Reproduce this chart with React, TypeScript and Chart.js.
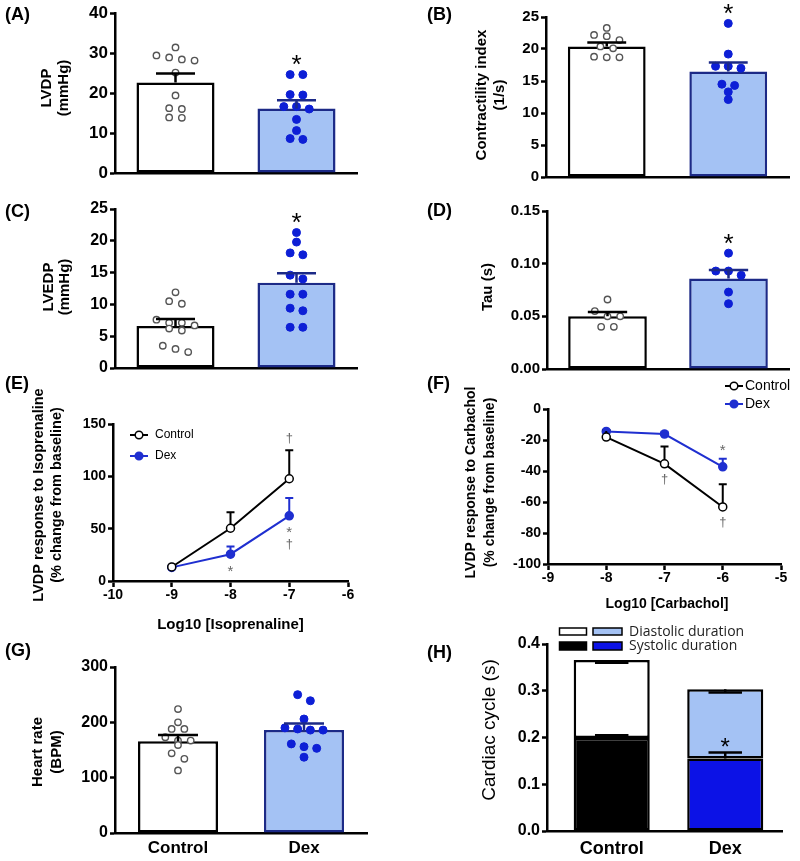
import React, { useEffect, useRef } from 'react';
import { Chart, registerables } from 'chart.js';

Chart.register(...registerables);

// ---------------- data ----------------
const groups = ['Control', 'Dex'];

// (A) LVDP (mmHg)
const lvdpControl = [31.4, 29.4, 28.9, 28.4, 28.1, 25.1, 19.4, 16.2, 16.0, 13.9, 13.8];
const lvdpDex = [24.6, 24.6, 19.6, 19.5, 16.6, 16.6, 16.0, 13.4, 10.6, 8.6, 8.4];
const lvdpMean = [22.6, 16.1];
const lvdpSem = [2.3, 2.1];

// (B) Contractility index (1/s)
const ciControl = [23.3, 22.2, 22.0, 21.4, 20.4, 20.1, 18.8, 18.7, 18.7];
const ciDex = [24.0, 19.2, 17.3, 17.3, 17.0, 14.5, 14.3, 13.3, 12.1];
const ciMean = [20.4, 16.5];
const ciSem = [0.6, 1.4];

// (C) LVEDP (mmHg)
const lvedpControl = [11.9, 10.5, 10.1, 7.6, 7.1, 7.1, 6.7, 6.2, 5.9, 3.5, 3.0, 2.5];
const lvedpDex = [21.3, 19.8, 18.1, 17.8, 14.6, 14.0, 11.6, 11.6, 9.4, 9.0, 6.4, 6.4];
const lvedpMean = [6.6, 13.4];
const lvedpSem = [1.1, 1.5];

// (D) Tau (s)
const tauControl = [0.066, 0.055, 0.05, 0.05, 0.04, 0.04];
const tauDex = [0.11, 0.093, 0.093, 0.089, 0.073, 0.062];
const tauMean = [0.05, 0.086];
const tauSem = [0.004, 0.008];

// (E) Isoprenaline dose response
const isoLogDose = [-9, -8, -7];
const isoControl = [13.4, 50.4, 97.7];
const isoControlSem = [0, 15.4, 27.2];
const isoDex = [13.0, 25.6, 62.3];
const isoDexSem = [0, 7.3, 16.9];

// (F) Carbachol dose response
const cchLogDose = [-8, -7, -6];
const cchControl = [-18.1, -35.4, -63.2];
const cchControlSem = [4.5, 11.2, 14.7];
const cchDex = [-14.5, -16.2, -37.3];
const cchDexSem = [1.0, 1.5, 5.2];

// (G) Heart rate (BPM)
const hrControl = [224, 200, 188, 188, 173, 167, 167, 159, 144, 134, 113];
const hrDex = [250, 239, 206, 190, 188, 186, 186, 161, 156, 153, 137];
const hrMean = [166, 186];
const hrSem = [11, 12];

// (H) Cardiac cycle (s)
const systolic = [0.199, 0.155];
const systolicSem = [0.006, 0.013];
const diastolic = [0.167, 0.148];
const diastolicSem = [0.006, 0.007];

// ---------------- styles ----------------
const FONT = "'Liberation Sans', Arial, Helvetica, sans-serif";
const OPEN = "'Open Sans', 'Liberation Sans', Arial, sans-serif";
const BLACK = '#000000';
const NAVY = '#1c2a87';
const LIGHT_BLUE = '#a4c2f4';
const DEX_BLUE = '#0d1fd6';
const LINE_BLUE = '#1f2fd0';
const STACK_BLUE = '#0c12e6';
const GREY_POINT = '#555555';
const MARK_GREY = '#666666';
const W = 800;
const H = 861;
const Y_AXIS_W = 60;
const X_AXIS_H = 25;

type Area = { l: number; t: number; r: number; b: number };
type Decor = {
  label: string;
  labelXY: [number, number];
  yTitle: string[];
  yTitleX: number[];
  yTitleY: number;
  yTitleFont: string;
  xTitle?: string;
  xTitleXY?: [number, number];
  xTitleFont?: string;
};

function layoutPadding(a: Area) {
  return { left: a.l - Y_AXIS_W, top: a.t, right: W - a.r, bottom: H - a.b - X_AXIS_H };
}

function swarm(values: number[], center: number, tol: number, step: number) {
  const order = values.map((_, i) => i).sort((a, b) => values[b] - values[a]);
  const pts: { x: number; y: number }[] = new Array(values.length);
  let group: number[] = [];
  const flush = () => {
    group.forEach((k, j) => {
      pts[k] = { x: center + (j - (group.length - 1) / 2) * step, y: values[k] };
    });
    group = [];
  };
  for (const k of order) {
    if (group.length && values[group[0]] - values[k] > tol) flush();
    group.push(k);
  }
  flush();
  return pts;
}

function glyph(ctx: CanvasRenderingContext2D, ch: string, x: number, cy: number, size: number, color: string) {
  const k = ch === '†' ? 0.3 : 0.565;
  ctx.save();
  ctx.font = `${size}px ${FONT}`;
  ctx.textAlign = 'center';
  ctx.textBaseline = 'alphabetic';
  ctx.fillStyle = color;
  ctx.fillText(ch, x, cy + k * size);
  ctx.restore();
}

function drawErr(ctx: CanvasRenderingContext2D, cx: number, y0: number, y1: number, half: number, color: string, lw: number) {
  ctx.save();
  ctx.strokeStyle = color;
  ctx.lineWidth = lw;
  ctx.beginPath();
  ctx.moveTo(cx, y0);
  ctx.lineTo(cx, y1);
  ctx.moveTo(cx - half, y1);
  ctx.lineTo(cx + half, y1);
  ctx.stroke();
  ctx.restore();
}

function drawDecor(ctx: CanvasRenderingContext2D, d: Decor) {
  ctx.save();
  ctx.fillStyle = BLACK;
  ctx.font = `bold 18px ${FONT}`;
  ctx.textAlign = 'left';
  ctx.textBaseline = 'middle';
  ctx.fillText(d.label, d.labelXY[0], d.labelXY[1]);
  d.yTitle.forEach((line, i) => {
    ctx.save();
    ctx.translate(d.yTitleX[i], d.yTitleY);
    ctx.rotate(-Math.PI / 2);
    ctx.font = d.yTitleFont;
    ctx.textAlign = 'center';
    ctx.textBaseline = 'middle';
    ctx.fillText(line, 0, 0);
    ctx.restore();
  });
  if (d.xTitle && d.xTitleXY) {
    ctx.font = d.xTitleFont || `bold 15px ${FONT}`;
    ctx.textAlign = 'center';
    ctx.textBaseline = 'middle';
    ctx.fillText(d.xTitle, d.xTitleXY[0], d.xTitleXY[1]);
  }
  ctx.restore();
}

function yAxis(min: number, max: number, step: number, dec: number, size: number, tickLen = 5) {
  return {
    type: 'linear',
    min,
    max,
    ticks: {
      stepSize: step,
      color: BLACK,
      padding: 2,
      font: { family: FONT, size, weight: 'bold' },
      callback: (v: any) => Number(v).toFixed(dec),
    },
    grid: { display: true, drawOnChartArea: false, drawTicks: true, tickLength: tickLen, tickWidth: 2.5, tickColor: BLACK },
    border: { display: true, color: BLACK, width: 2.5 },
    afterFit: (s: any) => {
      s.width = Y_AXIS_W;
    },
  };
}

function categoryLikeX(xMin: number, xMax: number, labelSize: number, labelPad: number, showLabels: boolean, stacked = false) {
  return {
    type: 'linear',
    min: xMin,
    max: xMax,
    offset: false,
    stacked,
    grid: { display: false, drawTicks: false, tickLength: 0, offset: false },
    border: { display: true, color: BLACK, width: 2.5 },
    ticks: {
      display: showLabels,
      padding: labelPad,
      color: BLACK,
      maxRotation: 0,
      autoSkip: false,
      font: { family: FONT, size: labelSize, weight: 'bold' },
      callback: (v: any) => groups[Math.round(Number(v) - 0.5)] ?? '',
    },
    afterBuildTicks: (s: any) => {
      s.ticks = groups.map((_, i) => ({ value: i + 0.5 }));
    },
    afterFit: (s: any) => {
      s.height = X_AXIS_H;
    },
  };
}

type BarPanel = {
  id: string;
  area: Area;
  yMin: number;
  yMax: number;
  yStep: number;
  dec: number;
  tickSize: number;
  control: number[];
  dex: number[];
  means: number[];
  sems: number[];
  star: boolean;
  barPct: number;
  xLabels?: { size: number; pad: number };
  decor: Decor;
};

function barPanelConfig(p: BarPanel) {
  const xMin = 0;
  const xMax = 2;
  const pxPerX = (p.area.r - p.area.l) / (xMax - xMin);
  const tol = (6.5 * (p.yMax - p.yMin)) / (p.area.b - p.area.t);
  const step = 12.7 / pxPerX;
  const ctrlPts = swarm(p.control, 0.5, tol, step);
  const dexPts = swarm(p.dex, 1.5, tol, step);
  return {
    type: 'bar',
    data: {
      datasets: [
        {
          type: 'scatter',
          data: ctrlPts,
          order: 0,
          pointRadius: 3.2,
          pointBorderWidth: 1.4,
          pointBackgroundColor: '#ffffff',
          pointBorderColor: GREY_POINT,
          clip: false,
        },
        {
          type: 'scatter',
          data: dexPts,
          order: 0,
          pointRadius: 4,
          pointBorderWidth: 1,
          pointBackgroundColor: DEX_BLUE,
          pointBorderColor: DEX_BLUE,
          clip: false,
        },
        {
          type: 'bar',
          data: groups.map((_, i) => ({ x: i + 0.5, y: p.means[i] })),
          order: 1,
          backgroundColor: ['#ffffff', LIGHT_BLUE],
          borderColor: [BLACK, NAVY],
          borderWidth: 2.5,
          borderSkipped: false,
          barPercentage: p.barPct,
          categoryPercentage: 1,
        },
      ],
    },
    options: {
      responsive: false,
      animation: false,
      events: [],
      layout: { padding: layoutPadding(p.area) },
      plugins: { legend: { display: false }, tooltip: { enabled: false } },
      scales: {
        x: categoryLikeX(xMin, xMax, p.xLabels ? p.xLabels.size : 12, p.xLabels ? p.xLabels.pad : 0, !!p.xLabels),
        y: yAxis(p.yMin, p.yMax, p.yStep, p.dec, p.tickSize),
      },
    },
    plugins: [
      {
        id: 'barDecor' + p.id,
        afterDatasetsDraw(chart: any) {
          const ctx = chart.ctx;
          const xs = chart.scales.x;
          const ys = chart.scales.y;
          const meta = chart.getDatasetMeta(2);
          p.means.forEach((m, i) => {
            const bar: any = meta.data[i];
            const cx = xs.getPixelForValue(i + 0.5);
            drawErr(ctx, cx, ys.getPixelForValue(m), ys.getPixelForValue(m + p.sems[i]), bar.width / 4, i === 0 ? BLACK : NAVY, 2.5);
          });
          if (p.star) {
            const top = ys.getPixelForValue(Math.max(...p.dex));
            glyph(ctx, '*', xs.getPixelForValue(1.5), top - 16, 26, BLACK);
          }
        },
        afterDraw(chart: any) {
          drawDecor(chart.ctx, p.decor);
        },
      },
    ],
  };
}

type Series = { name: string; values: number[]; sems: number[]; color: string; fill: string };
type Mark = { series: number; dose: number; pos: 'above' | 'below'; row: number; text: string };
type LinePanel = {
  id: string;
  area: Area;
  xMin: number;
  xMax: number;
  yMin: number;
  yMax: number;
  yStep: number;
  dose: number[];
  series: Series[];
  marks: Mark[];
  legend: { cx: number; ys: number[]; textX: number; size: number };
  decor: Decor;
};

function linePanelConfig(p: LinePanel) {
  return {
    type: 'line',
    data: {
      datasets: p.series.map((s) => ({
        label: s.name,
        data: p.dose.map((d, i) => ({ x: d, y: s.values[i] })),
        borderColor: s.color,
        borderWidth: 2,
        pointRadius: 4,
        pointBorderWidth: 1.5,
        pointBackgroundColor: s.fill,
        pointBorderColor: s.color,
        tension: 0,
        clip: false,
      })),
    },
    options: {
      responsive: false,
      animation: false,
      events: [],
      layout: { padding: layoutPadding(p.area) },
      plugins: { legend: { display: false }, tooltip: { enabled: false } },
      scales: {
        x: {
          type: 'linear',
          min: p.xMin,
          max: p.xMax,
          offset: false,
          ticks: { stepSize: 1, color: BLACK, padding: 0, maxRotation: 0, font: { family: FONT, size: 14, weight: 'bold' } },
          grid: { display: true, drawOnChartArea: false, drawTicks: true, tickLength: 6, tickWidth: 2.5, tickColor: BLACK, offset: false },
          border: { display: true, color: BLACK, width: 2.5 },
          afterFit: (s: any) => {
            s.height = X_AXIS_H;
          },
        },
        y: yAxis(p.yMin, p.yMax, p.yStep, 0, 14),
      },
    },
    plugins: [
      {
        id: 'lineDecor' + p.id,
        afterDatasetsDraw(chart: any) {
          const ctx = chart.ctx;
          const xs = chart.scales.x;
          const ys = chart.scales.y;
          p.series.forEach((s) => {
            s.values.forEach((v, j) => {
              const e = s.sems[j];
              if (!e) return;
              const cx = xs.getPixelForValue(p.dose[j]);
              const py = ys.getPixelForValue(v);
              drawErr(ctx, cx, py - 4, ys.getPixelForValue(v + e), 4, s.color, 2);
            });
          });
          p.marks.forEach((m) => {
            const s = p.series[m.series];
            const j = p.dose.indexOf(m.dose);
            const cx = xs.getPixelForValue(m.dose);
            let cy: number;
            if (m.pos === 'above') {
              cy = ys.getPixelForValue(s.values[j] + s.sems[j]) - 12 - m.row * 13;
            } else {
              cy = ys.getPixelForValue(s.values[j]) + 13 + m.row * 13 + (m.text === '†' ? 2 : 0);
            }
            glyph(ctx, m.text, cx, cy, m.text === '†' ? 13 : 15, MARK_GREY);
          });
          // legend
          const L = p.legend;
          p.series.forEach((s, i) => {
            const y = L.ys[i];
            ctx.save();
            ctx.strokeStyle = s.color;
            ctx.lineWidth = 2;
            ctx.beginPath();
            ctx.moveTo(L.cx - 9, y);
            ctx.lineTo(L.cx + 9, y);
            ctx.stroke();
            ctx.beginPath();
            ctx.arc(L.cx, y, 3.8, 0, Math.PI * 2);
            ctx.fillStyle = s.fill;
            ctx.fill();
            ctx.lineWidth = 1.5;
            ctx.stroke();
            ctx.fillStyle = BLACK;
            ctx.font = `${L.size}px ${FONT}`;
            ctx.textAlign = 'left';
            ctx.textBaseline = 'middle';
            ctx.fillText(s.name, L.textX, y);
            ctx.restore();
          });
        },
        afterDraw(chart: any) {
          drawDecor(chart.ctx, p.decor);
        },
      },
    ],
  };
}

function stackConfig() {
  const area: Area = { l: 547, t: 644, r: 782, b: 831 };
  const decor: Decor = {
    label: '(H)',
    labelXY: [427, 653],
    yTitle: ['Cardiac cycle (s)'],
    yTitleX: [490],
    yTitleY: 730,
    yTitleFont: `19px ${FONT}`,
  };
  return {
    type: 'bar',
    data: {
      datasets: [
        {
          label: 'Systolic duration',
          data: groups.map((_, i) => ({ x: i + 0.5, y: systolic[i] })),
          backgroundColor: [BLACK, STACK_BLUE],
          borderColor: BLACK,
          borderWidth: 2.5,
          borderSkipped: false,
          stack: 's',
          barPercentage: 0.67,
          categoryPercentage: 1,
        },
        {
          label: 'Diastolic duration',
          data: groups.map((_, i) => ({ x: i + 0.5, y: diastolic[i] })),
          backgroundColor: ['#ffffff', LIGHT_BLUE],
          borderColor: BLACK,
          borderWidth: 2.5,
          borderSkipped: false,
          stack: 's',
          barPercentage: 0.67,
          categoryPercentage: 1,
        },
      ],
    },
    options: {
      responsive: false,
      animation: false,
      events: [],
      layout: { padding: layoutPadding(area) },
      plugins: { legend: { display: false }, tooltip: { enabled: false } },
      scales: {
        x: categoryLikeX(-0.07, 2, 18, 7, true, true),
        y: { ...yAxis(0, 0.4, 0.1, 1, 16), stacked: true },
      },
    },
    plugins: [
      {
        id: 'stackDecor',
        afterDatasetsDraw(chart: any) {
          const ctx = chart.ctx;
          const xs = chart.scales.x;
          const ys = chart.scales.y;
          const meta = chart.getDatasetMeta(0);
          groups.forEach((_, i) => {
            const cx = xs.getPixelForValue(i + 0.5);
            const half = (meta.data[i] as any).width * 0.22;
            const sTop = systolic[i];
            const tTop = systolic[i] + diastolic[i];
            drawErr(ctx, cx, ys.getPixelForValue(sTop), ys.getPixelForValue(sTop + systolicSem[i]), half, BLACK, 2.5);
            drawErr(ctx, cx, ys.getPixelForValue(tTop), ys.getPixelForValue(tTop - diastolicSem[i]), half, BLACK, 2.5);
          });
          glyph(ctx, '*', xs.getPixelForValue(1.5), ys.getPixelForValue(systolic[1] + systolicSem[1]) - 11, 24, BLACK);
        },
        afterDraw(chart: any) {
          const ctx = chart.ctx;
          drawDecor(ctx, decor);
          const rows = [
            { y: 628, h: 7, fills: ['#ffffff', LIGHT_BLUE], text: 'Diastolic duration' },
            { y: 642, h: 8, fills: [BLACK, STACK_BLUE], text: 'Systolic duration' },
          ];
          ctx.save();
          rows.forEach((r) => {
            ctx.lineWidth = 1.5;
            ctx.strokeStyle = BLACK;
            ctx.fillStyle = r.fills[0];
            ctx.fillRect(559.5, r.y, 27, r.h);
            ctx.strokeRect(559.5, r.y, 27, r.h);
            ctx.fillStyle = r.fills[1];
            ctx.fillRect(593, r.y, 29, r.h);
            ctx.strokeRect(593, r.y, 29, r.h);
            ctx.fillStyle = '#222222';
            ctx.font = `14px ${OPEN}`;
            ctx.textAlign = 'left';
            ctx.textBaseline = 'middle';
            ctx.fillText(r.text, 629, r.y + r.h / 2 + 0.5);
          });
          ctx.restore();
        },
      },
    ],
  };
}

function buildConfigs(): any[] {
  const A = barPanelConfig({
    id: 'A',
    area: { l: 115, t: 13, r: 357, b: 173 },
    yMin: 0, yMax: 40, yStep: 10, dec: 0, tickSize: 17,
    control: lvdpControl, dex: lvdpDex, means: lvdpMean, sems: lvdpSem,
    star: true, barPct: 0.645,
    decor: { label: '(A)', labelXY: [5, 15], yTitle: ['LVDP', '(mmHg)'], yTitleX: [47, 64], yTitleY: 88, yTitleFont: `bold 15px ${FONT}` },
  });
  const B = barPanelConfig({
    id: 'B',
    area: { l: 546, t: 17, r: 789, b: 177 },
    yMin: 0, yMax: 25, yStep: 5, dec: 0, tickSize: 15,
    control: ciControl, dex: ciDex, means: ciMean, sems: ciSem,
    star: true, barPct: 0.64,
    decor: { label: '(B)', labelXY: [427, 15], yTitle: ['Contractility index', '(1/s)'], yTitleX: [482, 499.5], yTitleY: 95, yTitleFont: `bold 15px ${FONT}` },
  });
  const C = barPanelConfig({
    id: 'C',
    area: { l: 115, t: 209, r: 357, b: 368 },
    yMin: 0, yMax: 25, yStep: 5, dec: 0, tickSize: 16,
    control: lvedpControl, dex: lvedpDex, means: lvedpMean, sems: lvedpSem,
    star: true, barPct: 0.645,
    decor: { label: '(C)', labelXY: [5, 212], yTitle: ['LVEDP', '(mmHg)'], yTitleX: [49, 65], yTitleY: 287, yTitleFont: `bold 15px ${FONT}` },
  });
  const D = barPanelConfig({
    id: 'D',
    area: { l: 547, t: 211, r: 789, b: 369 },
    yMin: 0, yMax: 0.15, yStep: 0.05, dec: 2, tickSize: 15,
    control: tauControl, dex: tauDex, means: tauMean, sems: tauSem,
    star: true, barPct: 0.65,
    decor: { label: '(D)', labelXY: [427, 211], yTitle: ['Tau (s)'], yTitleX: [487.5], yTitleY: 287, yTitleFont: `bold 15px ${FONT}` },
  });
  const E = linePanelConfig({
    id: 'E',
    area: { l: 113, t: 424, r: 348, b: 581 },
    xMin: -10, xMax: -6, yMin: 0, yMax: 150, yStep: 50,
    dose: isoLogDose,
    series: [
      { name: 'Control', values: isoControl, sems: isoControlSem, color: BLACK, fill: '#ffffff' },
      { name: 'Dex', values: isoDex, sems: isoDexSem, color: LINE_BLUE, fill: LINE_BLUE },
    ],
    marks: [
      { series: 0, dose: -7, pos: 'above', row: 0, text: '†' },
      { series: 1, dose: -8, pos: 'below', row: 0, text: '*' },
      { series: 1, dose: -7, pos: 'below', row: 0, text: '*' },
      { series: 1, dose: -7, pos: 'below', row: 1, text: '†' },
    ],
    legend: { cx: 139, ys: [435, 456], textX: 155, size: 12 },
    decor: {
      label: '(E)', labelXY: [5, 384],
      yTitle: ['LVDP response to Isoprenaline', '(% change from baseline)'], yTitleX: [39, 56.5], yTitleY: 495,
      yTitleFont: `bold 14.5px ${FONT}`,
      xTitle: 'Log10 [Isoprenaline]', xTitleXY: [230.5, 625], xTitleFont: `bold 15px ${FONT}`,
    },
  });
  const F = linePanelConfig({
    id: 'F',
    area: { l: 548, t: 409, r: 781, b: 564 },
    xMin: -9, xMax: -5, yMin: -100, yMax: 0, yStep: 20,
    dose: cchLogDose,
    series: [
      { name: 'Control', values: cchControl, sems: cchControlSem, color: BLACK, fill: '#ffffff' },
      { name: 'Dex', values: cchDex, sems: cchDexSem, color: LINE_BLUE, fill: LINE_BLUE },
    ],
    marks: [
      { series: 1, dose: -6, pos: 'above', row: 0, text: '*' },
      { series: 0, dose: -7, pos: 'below', row: 0, text: '†' },
      { series: 0, dose: -6, pos: 'below', row: 0, text: '†' },
    ],
    legend: { cx: 734, ys: [386, 404], textX: 745, size: 14 },
    decor: {
      label: '(F)', labelXY: [427, 384],
      yTitle: ['LVDP response to Carbachol', '(% change from baseline)'], yTitleX: [471.5, 490], yTitleY: 482.5,
      yTitleFont: `bold 14px ${FONT}`,
      xTitle: 'Log10 [Carbachol]', xTitleXY: [667, 604], xTitleFont: `bold 14px ${FONT}`,
    },
  });
  const G = barPanelConfig({
    id: 'G',
    area: { l: 115, t: 667, r: 367, b: 833 },
    yMin: 0, yMax: 300, yStep: 100, dec: 0, tickSize: 16,
    control: hrControl, dex: hrDex, means: hrMean, sems: hrSem,
    star: false, barPct: 0.635,
    xLabels: { size: 17, pad: 5 },
    decor: { label: '(G)', labelXY: [5, 651], yTitle: ['Heart rate', '(BPM)'], yTitleX: [38, 57], yTitleY: 752, yTitleFont: `bold 15px ${FONT}` },
  });
  const Hc = stackConfig();
  return [A, B, C, D, E, F, G, Hc];
}

export default function App() {
  const refs = useRef<(HTMLCanvasElement | null)[]>([]);
  useEffect(() => {
    const configs = buildConfigs();
    const charts = configs.map((cfg, i) => new Chart(refs.current[i] as HTMLCanvasElement, cfg));
    return () => charts.forEach((c) => c.destroy());
  }, []);
  return (
    <div style={{ position: 'absolute', left: 0, top: 0, width: W, height: H, background: '#ffffff', overflow: 'hidden' }}>
      {Array.from({ length: 8 }).map((_, i) => (
        <canvas
          key={i}
          ref={(el) => {
            refs.current[i] = el;
          }}
          width={W}
          height={H}
          style={{ position: 'absolute', left: 0, top: 0, width: W, height: H }}
        />
      ))}
    </div>
  );
}
